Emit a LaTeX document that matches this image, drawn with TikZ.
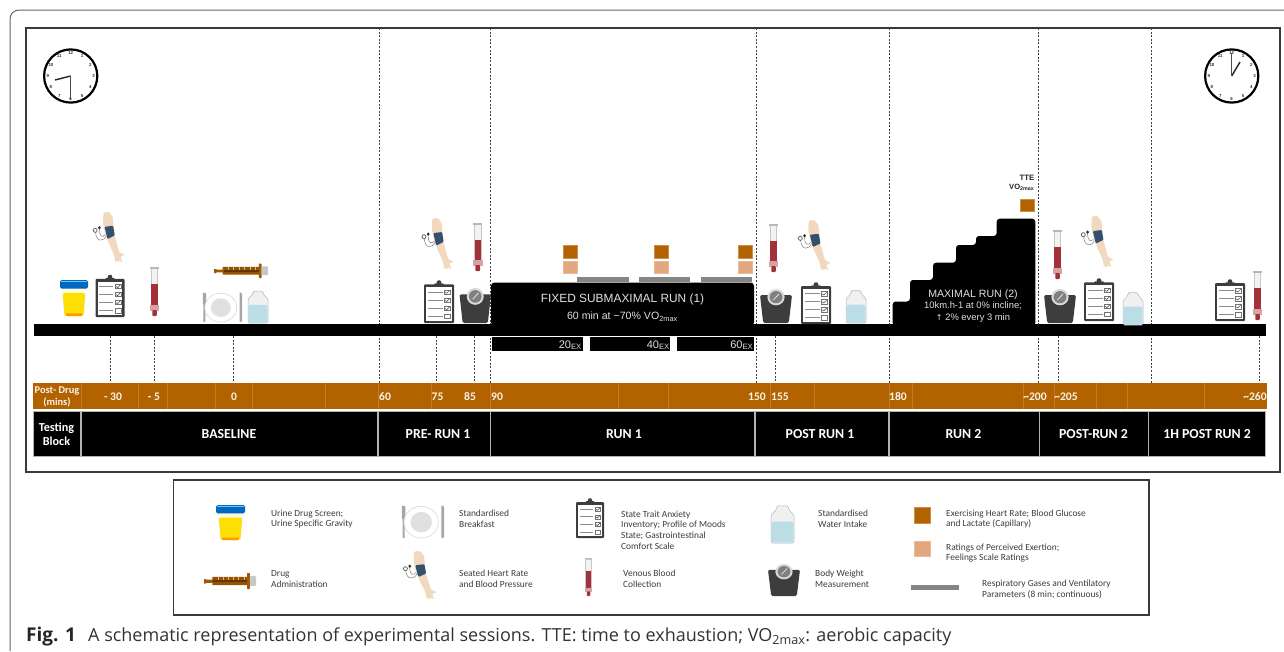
\documentclass[tikz,border=0pt]{standalone}
\usepackage{fontspec}
\setmainfont{Carlito}
\newfontfamily\arialf{Liberation Sans}
\newfontfamily\capf{Open Sans}
\usetikzlibrary{calc}
\definecolor{band}{HTML}{B36200}
\definecolor{bandline}{HTML}{C27C2E}
\definecolor{peach}{HTML}{E3A77F}
\definecolor{greybar}{HTML}{858585}
\definecolor{frame}{HTML}{3A3A3A}
\definecolor{legendtext}{HTML}{3C3C3C}
\definecolor{darkicon}{HTML}{3D3D3D}
\definecolor{skin}{HTML}{F1D8BF}
\definecolor{cuff}{HTML}{34506F}
\definecolor{blood}{HTML}{A4303A}
\definecolor{water}{HTML}{BBDDE5}
\newcommand\fsz[1]{\fontsize{#1}{#1}\selectfont}
\tikzset{
  x=1pt,y=-1pt,
  dashline/.style={draw=black!75,line width=.7pt,dash pattern=on 2pt off 1.6pt},
  block/.style={fill=black,draw=black!30,line width=.8pt},
  blocktext/.style={text=white,font=\bfseries\fsz{13.8},inner sep=0pt,align=center},
  bandtext/.style={text=white!92!band,font=\bfseries\fsz{11.6},inner sep=0pt,align=center},
  bandtick/.style={draw=bandline,line width=.5pt},
  runtext/.style={text=white!88!black,font=\arialf\fsz{11.9},inner sep=0pt,align=center},
  runsmall/.style={text=white!88!black,font=\arialf\fsz{10},inner sep=0pt,align=center},
  extext/.style={text=white!88!black,font=\arialf\fsz{11},inner sep=0pt,anchor=east},
  legendlabel/.style={text=legendtext,font=\fsz{9.4},inner sep=0pt,anchor=west,align=left},
  orangesq/.style={fill=band,draw=band!70!white,line width=.4pt},
  peachsq/.style={fill=peach,draw=peach!80!white,line width=.4pt},
  greyrect/.style={fill=greybar},
  clockface/.style={draw=black,line width=2.2pt,fill=white},
  clocknum/.style={font=\arialf\bfseries\fsz{4.4},inner sep=0pt,text=black!80},
}
% icons drawn in a unit box, v downwards
\newcommand\icon[5]{%
  \pgfmathsetmacro\iw{#4-#2}\pgfmathsetmacro\ih{#5-#3}%
  \begin{scope}[shift={(#2,#3)},x=\iw pt,y=-\ih pt]#1\end{scope}}
\newcommand\icoUrine{%
  \fill[black!8] (.07,.2) -- (.93,.2) -- (.85,1) -- (.15,1) -- cycle;
  \fill[yellow!15!white] (.08,.25) -- (.92,.25) -- (.9,.4) -- (.1,.4) -- cycle;
  \fill[rounded corners=2pt,fill=yellow!82!orange] (.1,.36) -- (.9,.36) -- (.84,1) -- (.16,1) -- cycle;
  \fill[orange!80!yellow] (.2,.93) -- (.8,.93) -- (.76,1) -- (.24,1) -- cycle;
  \fill[rounded corners=1.5pt,fill=blue!45!cyan!75!black] (0,0) rectangle (1,.24);
  \fill[blue!35!cyan!60!white] (.05,.02) rectangle (.95,.06);
}
\newcommand\icoClip{%
  \fill[darkicon,rounded corners=1pt] (0,.1) rectangle (1,1);
  \fill[white] (.08,.17) rectangle (.92,.95);
  \fill[darkicon] (.3,.16) -- (.36,.08) -- (.64,.08) -- (.7,.16) -- cycle;
  \fill[darkicon] (.5,.06) ellipse [x radius=.08,y radius=.055];
  \foreach \v in {.28,.47,.66,.85}{
    \fill[black!45] (.13,\v-.01) rectangle (.62,\v+.015);
    \draw[black!55,line width=.45pt] (.68,\v-.05) rectangle (.87,\v+.05);
  }
  \foreach \v in {.28,.47,.66}{
    \draw[black!75,line width=.5pt] (.7,\v) -- (.76,\v+.03) -- (.86,\v-.04);
  }
}
\newcommand\icoTube{%
  \fill[black!22] (.06,.01) rectangle (.94,.82);
  \fill[black!5] (.2,.04) rectangle (.8,.36);
  \fill[black!28] (.02,0) rectangle (.98,.035);
  \fill[blood] (.16,.35) rectangle (.84,.8);
  \fill[blood!45!white] (0,.78) rectangle (1,.89);
  \fill[blood,rounded corners=.8pt] (.25,.88) rectangle (.75,1);
}
\newcommand\icoSyringe{%
  \fill[band!90!black] (0,.38) -- (.03,.38) -- (.05,.42) -- (.17,.42) -- (.17,.62) -- (.05,.62) -- (.03,.66) -- (0,.66) -- cycle;
  \fill[band!85!black,rounded corners=.5pt] (.16,.24) rectangle (.84,.76);
  \fill[band!55!black] (.18,.42) rectangle (.84,.58);
  \fill[band!90!black,rounded corners=.5pt] (.83,0) rectangle (.88,1);
  \fill[black!22,rounded corners=.8pt] (.88,.2) rectangle (1,.8);
  \foreach \u in {.26,.36,.46,.56,.66,.76}{\fill[band!45!white] (\u,.26) rectangle (\u+.01,.42);}
}
\newcommand\icoPlate{%
  \fill[black!35,rounded corners=.6pt] (.02,.03) rectangle (.1,.42);
  \fill[black!35,rounded corners=.6pt] (.035,.4) rectangle (.085,1);
  \fill[black!35,rounded corners=.8pt] (.94,0) -- (1,.05) -- (1,1) -- (.94,1) -- cycle;
  \fill[white] (.47,.52) ellipse [x radius=.4,y radius=.48];
  \draw[black!15,line width=.6pt] (.47,.52) ellipse [x radius=.4,y radius=.48];
  \fill[black!12] (.47,.52) ellipse [x radius=.25,y radius=.31];
}
\newcommand\icoBottle{%
  \fill[black!6,rounded corners=1.5pt] (.25,.02) -- (.75,.02) -- (.75,.11) -- (1,.26) -- (1,1) -- (0,1) -- (0,.26) -- (.25,.11) -- cycle;
  \fill[water,rounded corners=1.5pt] (.03,.44) rectangle (.97,.985);
  \draw[black!15!water,line width=.5pt,rounded corners=1.5pt] (.25,.02) -- (.75,.02) -- (.75,.11) -- (1,.26) -- (1,1) -- (0,1) -- (0,.26) -- (.25,.11) -- cycle;
}
\newcommand\icoScale{%
  \fill[darkicon,rounded corners=1.5pt] (0,.18) -- (1,.18) -- (.9,1) -- (.1,1) -- cycle;
  \fill[white!85!black] (.5,.24) ellipse [x radius=.27,y radius=.24];
  \fill[black!50] (.5,.24) ellipse [x radius=.2,y radius=.18];
  \draw[white,line width=.6pt] (.42,.32) -- (.6,.14);
}
\newcommand\icoArm{%
  \draw[black!55,line width=.45pt] (.08,.38) .. controls (.08,.6) and (.36,.6) .. (.42,.44);
  \draw[black!55,line width=.45pt] (.2,.34) .. controls (.2,.5) and (.32,.5) .. (.38,.44);
  \fill[skin,rounded corners=1pt] (.33,.01) -- (.5,0) -- (.62,.1) -- (.67,.45) -- (.78,.7) -- (.82,.79) -- (1,.84) -- (.86,.87) -- (.92,1) -- (.82,.94) -- (.78,1) -- (.72,.94) -- (.7,1) -- (.66,.84) -- (.5,.62) -- (.38,.42) -- (.31,.2) -- cycle;
  \fill[cuff,rounded corners=1pt] (.36,.29) -- (.63,.27) -- (.68,.46) -- (.45,.53) -- cycle;
  \draw[black!60,fill=white,line width=.8pt] (.07,.36) ellipse [x radius=.06,y radius=.04];
  \fill[black!80] (.2,.31) ellipse [x radius=.045,y radius=.035];
}
\begin{document}
\begin{tikzpicture}
\useasboundingbox (0,0) rectangle (1284,651);
% outer and inner frames
\coordinate (outerA) at (10,651);
\coordinate (outerB) at (10,10);
\coordinate (outerC) at (1284,10);
\draw[black!60,line width=1pt,rounded corners=9pt] (outerA) -- (outerB) -- (outerC);
\draw[frame,line width=1.1pt] (26,28) rectangle (1280,472);
% long dashed lines
\foreach \n/\x in {a/379,b/490,c/756,d/889,e/1038.5,f/1151}{
  \coordinate (top\n) at (\x,28);
  \coordinate (bot\n) at (\x,383);
  \draw[dashline] (top\n) -- (bot\n);
}
% short dashed lines
\foreach \n/\x/\e in {g/110/383,h/154/383,i/233.7/385,j/436/383,k/474.5/383,l/775.5/383,m/1058/386,n/1259.5/382}{
  \coordinate (up\n) at (\x,336);
  \coordinate (dn\n) at (\x,\e);
  \draw[dashline] (up\n) -- (dn\n);
}
% timeline bar
\fill[black] (34,324.3) rectangle (1266,335.8);
% run blocks
\fill[black,rounded corners=3.5pt] (491,326) -- (491,282.5) -- (754,282.5) -- (754,326) -- cycle;
\fill[black,rounded corners=3pt] (892.7,326) -- (892.7,301.5) -- (910,301.5) -- (910,280) -- (933,280) -- (933,262.7) -- (956,262.7) -- (956,245) -- (976,245) -- (976,236) -- (996.7,236) -- (996.7,218.7) -- (1035.3,218.7) -- (1035.3,326) -- cycle;
\node[runtext] (run1a) at (622.5,299.3) {FIXED SUBMAXIMAL RUN (1)};
\node[runsmall,font=\arialf\fsz{10.6}] (run1b) at (622.5,317) {60 min at \textasciitilde70\% VO\textsubscript{2max}};
\node[runtext,font=\arialf\fsz{10.6}] (run2a) at (973,294.5) {MAXIMAL RUN (2)};
\node[runsmall,font=\arialf\fsz{9.4}] (run2b) at (973,305.8) {10km.h-1 at 0\% incline;};
\node[runsmall,font=\arialf\fsz{9.4}] (run2c) at (973,318) {{\fontspec{DejaVu Sans}\fsz{8}↑} 2\% every 3 min};
\node[inner sep=0pt,anchor=east,font=\arialf\bfseries\fsz{7.8},text=black!85] (tte) at (1034.5,178) {TTE};
\node[inner sep=0pt,anchor=east,font=\arialf\bfseries\fsz{7.6},text=black!85] (vo) at (1034.5,187) {VO\textsubscript{2max}};
\draw[orangesq] (1020.5,199) rectangle (1034,211.5);
% squares and gas bars on run 1
\draw[orangesq] (562.7,245.5) rectangle (576.7,258);
\draw[peachsq] (562.7,260.7) rectangle (576.7,273);
\draw[orangesq] (654,245.5) rectangle (668,258);
\draw[peachsq] (654,260.7) rectangle (668,273);
\draw[orangesq] (738,245.5) rectangle (752,258);
\draw[peachsq] (738,260.7) rectangle (752,273);
\fill[greyrect] (577,277.3) rectangle (628.5,282);
\fill[greyrect] (638.5,277.3) rectangle (690,282);
\fill[greyrect] (701,277.3) rectangle (752,282);
% EX boxes
\fill[black] (491.5,337) rectangle (582.5,351);
\fill[black] (589.5,337) rectangle (670,351);
\fill[black] (677,337) rectangle (753.5,351);
\node[extext] (ex20) at (582,345) {20\textsubscript{EX}};
\node[extext] (ex40) at (670,345) {40\textsubscript{EX}};
\node[extext] (ex60) at (753.5,345) {60\textsubscript{EX}};
% post-drug band
\fill[band] (33,383.3) rectangle (1267,409);
\foreach \x in {81,138,167,215,252,325,378,431,490,618,668,770,814,889,912,1023,1054,1096,1127,1204}{
  \draw[bandtick] (\x,383.3) -- (\x,409);
}
\node[bandtext,font=\bfseries\fsz{10.4}] (pd1) at (57,391) {Post- Drug};
\node[bandtext,font=\bfseries\fsz{10.4}] (pd2) at (57,402.5) {(mins)};
\foreach \n/\x/\t in {m30/113/- 30,m5/154/- 5,z/234/0,s60/385/60,s75/437.5/75,s85/470/85,s90/497/90,s150/757/150,s155/780/155,s180/898/180,s200/1035/\textasciitilde200,s205/1066/\textasciitilde205,s260/1255/\textasciitilde260}{
  \node[bandtext] (lab\n) at (\x,397) {\t};
}
% testing blocks
\foreach \a/\b/\n/\t in {81/377.5/base/BASELINE,378/490/prer/PRE- RUN 1,490.5/754.5/runa/RUN 1,755/888.5/postr/POST RUN 1,889/1039.5/runb/RUN 2,1039.5/1148/postb/POST-RUN 2,1148.5/1265.5/hr/1H POST RUN 2}{
  \draw[block] (\a,411) rectangle (\b,456);
}
\draw[block] (33,411) rectangle (80.5,456);
\node[blocktext,font=\bfseries\fsz{12.2}] (tb1) at (56.5,428) {Testing};
\node[blocktext,font=\bfseries\fsz{12.2}] (tb2) at (56.5,441) {Block};
\node[blocktext] (tbase) at (229,434) {BASELINE};
\node[blocktext] (tpre) at (438,434) {PRE- RUN 1};
\node[blocktext] (trun1) at (624,434) {RUN 1};
\node[blocktext] (tpost1) at (820,434) {POST RUN 1};
\node[blocktext] (trun2) at (963.5,434) {RUN 2};
\node[blocktext] (tpost2) at (1093.5,434) {POST-RUN 2};
\node[blocktext] (t1h) at (1207,434) {1H POST RUN 2};
% clocks
\foreach \n/\cx/\hx/\hy/\mx/\my in {l/70.7/55/80/70.7/100,r/1231.7/1240/62/1231.7/53}{
  \coordinate (clock\n) at (\cx,76);
  \draw[clockface] (clock\n) circle (26.6);
  \foreach \h in {1,...,12}{
    \node[clocknum] at ($(clock\n)+({22.8*sin(30*\h)},{-22.8*cos(30*\h)})$) {\h};
  }
  \draw[black!85,line width=1.4pt] (clock\n) -- (\hx,\hy);
  \draw[black!70,line width=1pt] (clock\n) -- (\mx,\my);
}
% baseline icons
\icon{\icoUrine}{60}{280}{88}{316}
\icon{\icoClip}{95.5}{274.5}{124.5}{317}
\icon{\icoArm}{93}{212}{125}{263}
\icon{\icoTube}{150}{267}{159}{316}
\icon{\icoSyringe}{214}{263.5}{268}{278}
\icon{\icoPlate}{202}{292}{242}{322}
\icon{\icoBottle}{248}{290.5}{268}{323}
% pre-run 1
\icon{\icoArm}{421.7}{218}{454}{270}
\icon{\icoTube}{473}{223}{482.5}{271}
\icon{\icoClip}{424}{280}{454}{323}
\icon{\icoScale}{459.5}{288}{491}{323}
% post-run 1
\icon{\icoTube}{769}{224}{778}{272}
\icon{\icoArm}{798}{220}{831}{271}
\icon{\icoScale}{760}{289}{792}{323}
\icon{\icoClip}{801}{282}{831}{324}
\icon{\icoBottle}{846}{290}{866}{323}
% post-run 2
\icon{\icoTube}{1053}{230}{1062}{279}
\icon{\icoArm}{1081}{216}{1114}{268}
\icon{\icoScale}{1044}{289}{1076}{323}
\icon{\icoClip}{1084}{278}{1114}{321}
\icon{\icoBottle}{1123}{292}{1143}{325}
% 1h
\icon{\icoClip}{1215}{279}{1245}{321}
\icon{\icoTube}{1253}{271}{1262}{320}
% legend
\draw[frame,line width=1.1pt] (173.5,480) rectangle (1149,615);
\icon{\icoUrine}{216}{505}{245}{540}
\node[legendlabel] (l1) at (271,519) {Urine Drug Screen;\\[1.2pt]Urine Specific Gravity};
\icon{\icoPlate}{401}{505}{444}{538}
\node[legendlabel] (l2) at (459,519) {Standardised\\[1.2pt]Breakfast};
\icon{\icoClip}{576}{498}{604}{538}
\node[legendlabel] (l3) at (621,530) {State Trait Anxiety\\[1.2pt]Inventory; Profile of Moods\\[1.2pt]State; Gastrointestinal\\[1.2pt]Comfort Scale};
\icon{\icoBottle}{771}{505}{794}{543}
\node[legendlabel] (l4) at (818,519) {Standardised\\[1.2pt]Water Intake};
\draw[orangesq] (914,507) rectangle (930,523);
\node[legendlabel] (l5) at (946,519) {Exercising Heart Rate; Blood Glucose\\[1.2pt]and Lactate (Capillary)};
\draw[peachsq] (914,541) rectangle (930,556);
\node[legendlabel] (l6) at (946,553) {Ratings of Perceived Exertion;\\[1.2pt]Feelings Scale Ratings};
\icon{\icoSyringe}{204}{573}{256}{589}
\node[legendlabel] (l7) at (271,579) {Drug\\[1.2pt]Administration};
\icon{\icoArm}{403}{551}{437}{600}
\node[legendlabel] (l8) at (459,579) {Seated Heart Rate\\[1.2pt]and Blood Pressure};
\icon{\icoTube}{585}{558}{592}{596}
\node[legendlabel] (l9) at (623,579) {Venous Blood\\[1.2pt]Collection};
\icon{\icoScale}{768}{564}{800}{596}
\node[legendlabel] (l10) at (815,579) {Body Weight\\[1.2pt]Measurement};
\fill[greyrect] (911,585) rectangle (959,590);
\node[legendlabel] (l11) at (982,589.5) {Respiratory Gases and Ventilatory\\[1.2pt]Parameters (8 min; continuous)};
% caption
\node[inner sep=0pt,anchor=west,font=\capf\bfseries\fsz{19},text=black!85] (figlab) at (26,637) {Fig. 1};
\node[inner sep=0pt,anchor=west,font=\capf\fsz{18},text=black!80] (figcap) at (88,637) {A schematic representation of experimental sessions. TTE: time to exhaustion; VO\textsubscript{2max}: aerobic capacity};
\end{tikzpicture}
\end{document}
